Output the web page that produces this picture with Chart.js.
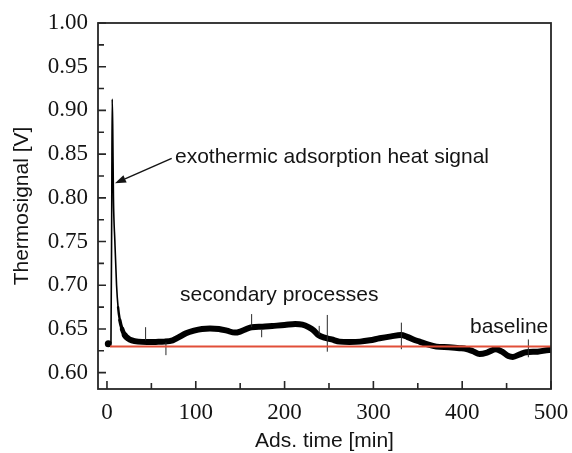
<!DOCTYPE html>
<html>
<head>
<meta charset="utf-8">
<script src="https://cdn.jsdelivr.net/npm/chart.js@4/dist/chart.umd.min.js"></script>
<style>
  html, body { margin: 0; padding: 0; background: #ffffff; }
  canvas { display: block; }
</style>
</head>
<body>
<canvas id="thermo" width="572" height="453"></canvas>
<script>
// Thermosignal recorded during adsorption (time in minutes, signal in volts)
const timeMin = [1.5, 4.5, 5.4, 5.9, 6.5, 7.3, 8.9, 10.8, 12.5, 14.5, 17, 20, 24, 28, 35, 45, 55, 65, 74, 80,
  89, 98, 107, 116, 126, 135, 144, 150, 157, 163, 175, 186, 200, 212, 220, 227, 233, 238, 245, 253,
  262, 273, 285, 296, 307, 320, 331, 338, 345, 352, 362, 371, 385, 397, 405, 412, 419.6, 428, 438, 445,
  452, 457, 465, 472, 485, 498, 500];
const signalV = [0.633, 0.634, 0.80, 0.913, 0.88, 0.80, 0.75, 0.70, 0.675, 0.66, 0.65, 0.643, 0.639, 0.637, 0.6355, 0.635, 0.6352, 0.6355, 0.637, 0.640,
  0.645, 0.648, 0.650, 0.6505, 0.650, 0.648, 0.6458, 0.647, 0.650, 0.652, 0.6525, 0.6534, 0.6545, 0.6557, 0.655, 0.652, 0.648, 0.6431, 0.640, 0.638,
  0.6355, 0.6352, 0.6355, 0.637, 0.6393, 0.6415, 0.643, 0.641, 0.638, 0.6355, 0.632, 0.6298, 0.629, 0.628, 0.627, 0.6245, 0.6214, 0.623, 0.6268, 0.624,
  0.619, 0.618, 0.621, 0.6233, 0.624, 0.626, 0.626];

// Short noise spikes on the signal (time, lower end, upper end)
const spikeTime = [43.5, 66.4, 162.9, 174.2, 239, 248.1, 331.5, 474.5];
const spikeLow  = [0.637, 0.620, 0.652, 0.6405, 0.643, 0.624, 0.6268, 0.6176];
const spikeHigh = [0.652, 0.6345, 0.667, 0.6489, 0.6535, 0.666, 0.6572, 0.638];

// Baseline level
const baselineTime = [3.4, 500];
const baselineV = [0.63, 0.63];

// Axis ticks
const xMajorTicks = [0, 100, 200, 300, 400, 500];
const xMinorTicks = [50, 150, 250, 350, 450];
const yMajorTicks = [0.60, 0.65, 0.70, 0.75, 0.80, 0.85, 0.90, 0.95, 1.00];
const yMinorTicks = [0.625, 0.675, 0.725, 0.775, 0.825, 0.875, 0.925, 0.975];

// Text labels in the plot
const noteText = ['exothermic adsorption heat signal', 'secondary processes', 'baseline'];
const noteTime = [76.6, 82.2, 408.8];
const noteV = [0.8467, 0.6889, 0.652];
const arrowTime = [72.9, 9.0];
const arrowV = [0.8452, 0.8166];

const signalPoints = timeMin.map((t, i) => ({ x: t, y: signalV[i] }));
const baselinePoints = baselineTime.map((t, i) => ({ x: t, y: baselineV[i] }));
const spikePoints = [];
spikeTime.forEach((t, i) => {
  spikePoints.push({ x: t, y: spikeLow[i] }, { x: t, y: spikeHigh[i] }, { x: t, y: null });
});

const SANS = '"Liberation Sans", Arial, sans-serif';
const SERIF = '"Liberation Serif", "Times New Roman", serif';
const INK = '#141414';
const FRAME = '#262626';

// The trace is thin during the fast peak and broadens into the noisy band afterwards
function traceWidth(t) {
  if (t < 11) return 1.6;
  if (t < 13) return 2.4;
  if (t < 15) return 3.4;
  if (t < 18) return 4.6;
  return 6;
}

// Frame, inward ticks, labels and the arrow
const framePlugin = {
  id: 'frameAndNotes',
  afterDatasetsDraw(chart) {
    const { ctx, chartArea: a, scales: { x, y } } = chart;
    ctx.save();
    ctx.strokeStyle = FRAME;
    ctx.lineWidth = 1.8;
    ctx.strokeRect(a.left, a.top, a.right - a.left, a.bottom - a.top);

    ctx.lineWidth = 1.6;
    ctx.beginPath();
    yMajorTicks.forEach(v => { const p = y.getPixelForValue(v); ctx.moveTo(a.left, p); ctx.lineTo(a.left + 8, p); });
    yMinorTicks.forEach(v => { const p = y.getPixelForValue(v); ctx.moveTo(a.left, p); ctx.lineTo(a.left + 6, p); });
    xMajorTicks.forEach(v => { const p = x.getPixelForValue(v); ctx.moveTo(p, a.bottom); ctx.lineTo(p, a.bottom - 8); });
    xMinorTicks.forEach(v => { const p = x.getPixelForValue(v); ctx.moveTo(p, a.bottom); ctx.lineTo(p, a.bottom - 6); });
    ctx.stroke();

    ctx.fillStyle = INK;
    ctx.font = '21px ' + SANS;
    ctx.textAlign = 'left';
    ctx.textBaseline = 'middle';
    noteText.forEach((s, i) => ctx.fillText(s, x.getPixelForValue(noteTime[i]), y.getPixelForValue(noteV[i])));

    const x0 = x.getPixelForValue(arrowTime[0]), y0 = y.getPixelForValue(arrowV[0]);
    const x1 = x.getPixelForValue(arrowTime[1]), y1 = y.getPixelForValue(arrowV[1]);
    const ang = Math.atan2(y1 - y0, x1 - x0);
    const headLen = 11, headHalf = 4;
    const bx = x1 - headLen * Math.cos(ang), by = y1 - headLen * Math.sin(ang);
    ctx.strokeStyle = INK;
    ctx.lineWidth = 1.5;
    ctx.beginPath();
    ctx.moveTo(x0, y0);
    ctx.lineTo(bx, by);
    ctx.stroke();
    ctx.beginPath();
    ctx.moveTo(x1, y1);
    ctx.lineTo(bx + headHalf * Math.sin(ang), by - headHalf * Math.cos(ang));
    ctx.lineTo(bx - headHalf * Math.sin(ang), by + headHalf * Math.cos(ang));
    ctx.closePath();
    ctx.fill();
    ctx.restore();
  }
};

new Chart(document.getElementById('thermo'), {
  type: 'line',
  data: {
    datasets: [
      {
        label: 'baseline',
        data: baselinePoints,
        borderColor: '#e14f38',
        borderWidth: 2,
        pointRadius: 0,
        tension: 0
      },
      {
        label: 'spikes',
        data: spikePoints,
        borderColor: '#2a2a2a',
        borderWidth: 1,
        pointRadius: 0,
        spanGaps: false,
        tension: 0
      },
      {
        label: 'Thermosignal',
        data: signalPoints,
        borderColor: '#000000',
        backgroundColor: '#000000',
        borderWidth: 6,
        borderJoinStyle: 'round',
        borderCapStyle: 'round',
        cubicInterpolationMode: 'monotone',
        pointRadius: ctx => ctx.dataIndex === 0 ? 3.5 : 0,
        pointBorderWidth: 0,
        segment: {
          borderWidth: ctx => traceWidth(ctx.p0.parsed.x)
        }
      }
    ]
  },
  options: {
    responsive: false,
    animation: false,
    layout: { padding: { top: 23, right: 21, left: 0, bottom: 0 } },
    plugins: { legend: { display: false }, tooltip: { enabled: false } },
    scales: {
      x: {
        type: 'linear',
        min: -10.1,
        max: 500,
        afterBuildTicks: s => { s.ticks = xMajorTicks.map(v => ({ value: v })); },
        afterFit: s => { s.height = 64; s.paddingLeft = 0; s.paddingRight = 0; },
        grid: { display: false, drawTicks: false },
        border: { display: false },
        ticks: {
          padding: 10,
          color: INK,
          font: { family: SERIF, size: 23 },
          callback: v => String(v)
        },
        title: {
          display: true,
          text: 'Ads. time [min]',
          color: INK,
          font: { family: SANS, size: 21, lineHeight: 1.1 },
          padding: { top: 0, bottom: 0 }
        }
      },
      y: {
        type: 'linear',
        min: 0.5813,
        max: 1.0,
        afterBuildTicks: s => { s.ticks = yMajorTicks.map(v => ({ value: v })); },
        afterFit: s => { s.width = 98; s.paddingTop = 0; s.paddingBottom = 0; },
        grid: { display: false, drawTicks: false },
        border: { display: false },
        ticks: {
          padding: 10,
          color: INK,
          font: { family: SERIF, size: 23 },
          callback: v => Number(v).toFixed(2)
        },
        title: {
          display: true,
          text: 'Thermosignal [V]',
          color: INK,
          font: { family: SANS, size: 21 },
          padding: { top: 10, bottom: 0 }
        }
      }
    }
  },
  plugins: [framePlugin]
});
</script>
</body>
</html>
